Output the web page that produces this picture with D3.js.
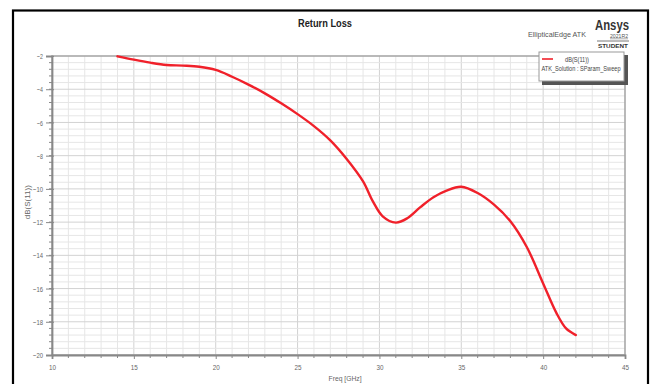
<!DOCTYPE html>
<html>
<head>
<meta charset="utf-8">
<script src="https://cdn.jsdelivr.net/npm/d3@7"></script>
<style>
  html, body { margin: 0; padding: 0; background: #fff; }
  svg { display: block; font-family: "Liberation Sans Narrow", "Liberation Sans", Arial, sans-serif; }
  .grid line { stroke: #e6e6e6; stroke-width: 1; }
  .grid .major { stroke: #d2d2d2; }
  .axis text { fill: #666; font-size: 8px; }
  .axis line, .axis path { stroke: #888; }
</style>
</head>
<body>
<div id="chart"></div>
<script>
// frequency sweep (GHz) and return loss dB(S(11))
const freq = [14.0, 15, 16, 17, 18, 19, 20, 21, 22, 23, 24, 25, 26, 27, 28, 29, 29.6, 30.2, 31, 31.7,
              32.5, 33.3, 34.1, 35, 36, 37, 38, 39, 40, 40.8, 41.4, 42]
const s11  = [-2.02, -2.22, -2.4, -2.54, -2.58, -2.65, -2.84, -3.25, -3.72, -4.25, -4.85, -5.5, -6.22, -7.08, -8.2, -9.55,
              -10.75, -11.65, -12.03, -11.77, -11.1, -10.5, -10.1, -9.87, -10.25, -10.95, -11.95, -13.5, -15.69,
              -17.45, -18.4, -18.8]

const xTicks = [10, 15, 20, 25, 30, 35, 40, 45]
const yTicks = [-2, -4, -6, -8, -10, -12, -14, -16, -18, -20]

const W = 655, H = 384
const margin = {top: 56, right: 30, bottom: 29, left: 52}
const width  = W - margin.left - margin.right
const height = H - margin.top - margin.bottom

const x = d3.scaleLinear().domain([10, 45]).range([0, width])
const y = d3.scaleLinear().domain([-20, -2]).range([height, 0])

const root = d3.select("#chart").append("svg")
  .attr("width", W)
  .attr("height", H)

// outer frame
root.append("rect")
  .attr("x", 13).attr("y", 10.5)
  .attr("width", 635).attr("height", 390)
  .attr("fill", "none").attr("stroke", "#000").attr("stroke-width", 2.2)

const svg = root.append("g")
  .attr("transform", "translate(" + margin.left + "," + margin.top + ")")

// grid: minor every 1 GHz / 0.4 dB, major at the ticks
const grid = svg.append("g").attr("class", "grid")
grid.selectAll(".vx").data(d3.range(11, 45)).join("line")
  .attr("class", d => d % 5 == 0 ? "major" : null)
  .attr("x1", d => x(d)).attr("x2", d => x(d))
  .attr("y1", 0).attr("y2", height)
grid.selectAll(".hy").data(d3.range(-19.6, -2.1, 0.4)).join("line")
  .attr("class", d => Math.abs(d - Math.round(d)) < 0.01 && Math.round(d) % 2 == 0 ? "major" : null)
  .attr("x1", 0).attr("x2", width)
  .attr("y1", d => y(d)).attr("y2", d => y(d))

// plot frame
svg.append("rect")
  .attr("width", width).attr("height", height)
  .attr("fill", "none").attr("stroke", "#a8a8a8").attr("stroke-width", 1.6)

// axes
const xAxis = d3.axisBottom(x).tickValues(xTicks).tickSize(4).tickPadding(5).tickFormat(d3.format("d"))
const yAxis = d3.axisLeft(y).tickValues(yTicks).tickSize(6).tickPadding(3).tickFormat(d3.format("d"))

const gx = svg.append("g").attr("class", "x axis")
  .attr("transform", "translate(0," + height + ")")
  .call(xAxis)
gx.select(".domain").attr("stroke-width", 1.8)
gx.selectAll(".tick text").attr("textLength", function(d) { return d < 10 ? 4 : 7 }).attr("lengthAdjust", "spacingAndGlyphs")
gx.selectAll(".minor").data(d3.range(11, 45).filter(d => d % 5 != 0)).join("line")
  .attr("class", "minor")
  .attr("x1", d => x(d)).attr("x2", d => x(d))
  .attr("y1", 0).attr("y2", 3)
  .attr("stroke", "#888")

const gy = svg.append("g").attr("class", "y axis").call(yAxis)
gy.select(".domain").attr("stroke-width", 1.8)
gy.selectAll(".tick line").attr("x2", -6).attr("x1", 2)
gy.selectAll(".tick text").attr("textLength", function(d) { return d > -10 ? 6 : 10 }).attr("lengthAdjust", "spacingAndGlyphs")
gy.selectAll(".minor").data(d3.range(-19.6, -2.1, 0.4)).join("line")
  .attr("class", "minor")
  .attr("x1", -3).attr("x2", 1)
  .attr("y1", d => y(d)).attr("y2", d => y(d))
  .attr("stroke", "#888")

// axis titles
svg.append("text")
  .attr("x", x(27.9)).attr("y", height + 26)
  .attr("text-anchor", "middle")
  .attr("font-size", 8).attr("fill", "#666")
  .attr("textLength", 33).attr("lengthAdjust", "spacingAndGlyphs")
  .text("Freq [GHz]")

svg.append("text")
  .attr("transform", "translate(-22," + y(-10.8) + ") rotate(-90)")
  .attr("text-anchor", "middle")
  .attr("font-size", 8).attr("fill", "#666")
  .attr("textLength", 34).attr("lengthAdjust", "spacingAndGlyphs")
  .text("dB(S(11))")

// the curve
const line = d3.line()
  .x(function(d, i) { return x(freq[i]) })
  .y(function(d) { return y(d) })
  .curve(d3.curveCatmullRom.alpha(0.5))

svg.append("path")
  .datum(s11)
  .attr("fill", "none")
  .attr("stroke", "#f0202a")
  .attr("stroke-width", 2.4)
  .attr("stroke-linecap", "round")
  .attr("d", line)

// title and branding
root.append("text")
  .attr("x", 325).attr("y", 27)
  .attr("text-anchor", "middle")
  .attr("font-size", 11).attr("font-weight", "bold").attr("fill", "#222")
  .attr("textLength", 54).attr("lengthAdjust", "spacingAndGlyphs")
  .text("Return Loss")

root.append("text")
  .attr("x", 528).attr("y", 37)
  .attr("font-size", 8).attr("fill", "#555")
  .attr("textLength", 58).attr("lengthAdjust", "spacingAndGlyphs")
  .text("EllipticalEdge  ATK")

root.append("text")
  .attr("x", 595).attr("y", 30)
  .attr("font-size", 14).attr("font-weight", "bold").attr("fill", "#333")
  .attr("textLength", 34).attr("lengthAdjust", "spacingAndGlyphs")
  .text("Ansys")

root.append("text")
  .attr("x", 610).attr("y", 38)
  .attr("font-size", 6).attr("fill", "#555")
  .attr("textLength", 18).attr("lengthAdjust", "spacingAndGlyphs")
  .text("2021R2")

root.append("line")
  .attr("x1", 610).attr("x2", 628).attr("y1", 38.8).attr("y2", 38.8)
  .attr("stroke", "#777").attr("stroke-width", 0.6)

root.append("line")
  .attr("x1", 597).attr("x2", 629).attr("y1", 41).attr("y2", 41)
  .attr("stroke", "#555").attr("stroke-width", 0.8)

root.append("text")
  .attr("x", 598).attr("y", 47.5)
  .attr("font-size", 6).attr("font-weight", "bold").attr("fill", "#333")
  .attr("textLength", 30).attr("lengthAdjust", "spacingAndGlyphs")
  .text("STUDENT")

// legend
const lg = root.append("g").attr("transform", "translate(539,52)")
lg.append("rect").attr("x", 3).attr("y", 3).attr("width", 86).attr("height", 30).attr("fill", "#555")
lg.append("rect").attr("width", 85).attr("height", 29)
  .attr("fill", "#fff").attr("stroke", "#999").attr("stroke-width", 1)
lg.append("line").attr("x1", 3).attr("x2", 14).attr("y1", 7).attr("y2", 7)
  .attr("stroke", "#f0202a").attr("stroke-width", 1.6)
lg.append("text").attr("x", 26).attr("y", 9.5)
  .attr("font-size", 6.5).attr("fill", "#444")
  .attr("textLength", 24).attr("lengthAdjust", "spacingAndGlyphs")
  .text("dB(S(11))")
lg.append("text").attr("x", 2.5).attr("y", 19)
  .attr("font-size", 6.5).attr("fill", "#444")
  .attr("textLength", 79).attr("lengthAdjust", "spacingAndGlyphs")
  .text("ATK_Solution : SParam_Sweep")
</script>
</body>
</html>
